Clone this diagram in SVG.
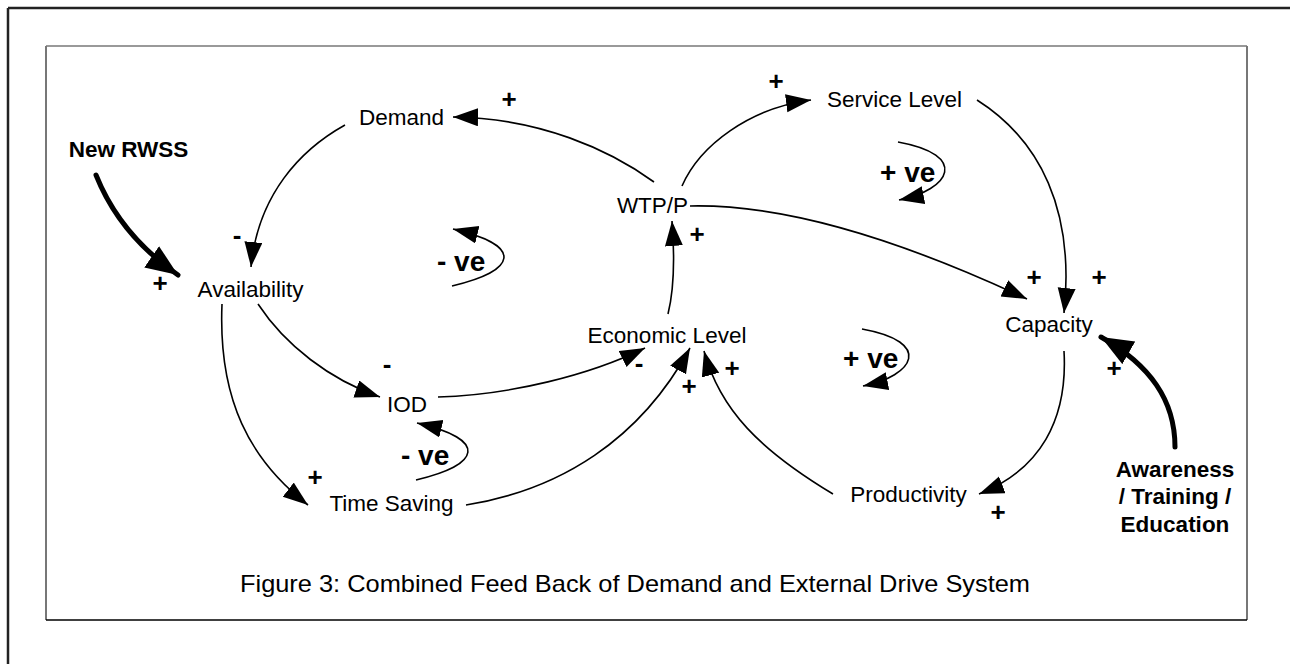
<svg xmlns="http://www.w3.org/2000/svg" width="1290" height="664" viewBox="0 0 1290 664">
<style>
.lbl{font-family:"Liberation Sans",Arial,sans-serif;font-size:22.5px;fill:#000;text-anchor:middle}
.bold{font-family:"Liberation Sans",Arial,sans-serif;font-size:22.5px;font-weight:bold;fill:#000;text-anchor:middle}
.sign{font-family:"Liberation Sans",Arial,sans-serif;font-size:26px;font-weight:bold;fill:#000;text-anchor:middle}
.loop{font-family:"Liberation Sans",Arial,sans-serif;font-size:28px;font-weight:bold;fill:#000;text-anchor:start}
.cap{font-family:"Liberation Sans",Arial,sans-serif;font-size:24px;fill:#000;text-anchor:middle}
.thin{fill:none;stroke:#000;stroke-width:1.6;marker-end:url(#ah)}
.thick{fill:none;stroke:#000;stroke-width:5;stroke-linecap:round;marker-end:url(#ahb)}
</style>
<defs>
<marker id="ah" markerUnits="userSpaceOnUse" markerWidth="28" markerHeight="20" refX="25" refY="9" orient="auto" viewBox="0 0 28 20">
<path d="M0,0 L25,9 L0,18 z" fill="#000"/>
</marker>
<marker id="ahb" markerUnits="userSpaceOnUse" markerWidth="34" markerHeight="30" refX="32" refY="13" orient="auto" viewBox="0 0 34 30">
<path d="M0,0 L32,13 L0,26 z" fill="#000"/>
</marker>
</defs>
<rect width="1290" height="664" fill="#fff"/>
<g id="frame">
<line x1="8" y1="8" x2="1290" y2="8" stroke="#222" stroke-width="2.5"/>
<line x1="8" y1="8" x2="8" y2="664" stroke="#222" stroke-width="2.5"/>
<line x1="46" y1="46" x2="1247" y2="46" stroke="#777" stroke-width="1.5"/>
<line x1="46" y1="46" x2="46" y2="620" stroke="#777" stroke-width="2"/>
<line x1="1247" y1="46" x2="1247" y2="620" stroke="#777" stroke-width="2"/>
<line x1="46" y1="620" x2="1247" y2="620" stroke="#000" stroke-width="1.5"/>
</g>
<g id="connectors">
<path class="thick" d="M96,175 Q120,235 178,275"/>
<path class="thin" d="M345,125 C300,150 258,195 251,267"/>
<path class="thin" d="M654,182 C610,150 540,118 453,117"/>
<path class="thin" d="M682,186 C700,145 750,108 811,100"/>
<path class="thin" d="M977,100 C1040,140 1075,210 1064,313"/>
<path class="thin" d="M690,206 C780,204 890,235 1027,299"/>
<path class="thin" d="M1064,351 C1068,420 1040,470 979,494"/>
<path class="thin" d="M833,494 C760,450 720,410 704,351"/>
<path class="thin" d="M466,505 C560,490 640,440 690,348"/>
<path class="thin" d="M438,397 C510,395 590,375 645,348"/>
<path class="thin" d="M258,304 C285,345 330,380 380,397"/>
<path class="thin" d="M222,304 C218,400 250,460 308,505"/>
<path class="thin" d="M668,314 C674,290 675,260 672,221"/>
<path class="thick" d="M1175,447 C1175,400 1150,365 1101,337"/>
<path class="thin" d="M898,142 C970,155 950,190 899,200"/>
<path class="thin" d="M862,329 C934,342 914,376 863,386"/>
<path class="thin" d="M452,286 C516,271 526,246 453,229"/>
<path class="thin" d="M416,480 C480,465 490,440 417,423"/>
</g>
<g id="demand"><text class="lbl" x="401.5" y="125">Demand</text></g>
<g id="availability"><text class="lbl" x="250.5" y="297">Availability</text></g>
<g id="wtpp"><text class="lbl" x="652.5" y="213">WTP/P</text></g>
<g id="service-level"><text class="lbl" x="894.5" y="107">Service Level</text></g>
<g id="capacity"><text class="lbl" x="1049" y="332">Capacity</text></g>
<g id="economic-level"><text class="lbl" x="667" y="343">Economic Level</text></g>
<g id="iod"><text class="lbl" x="407" y="412">IOD</text></g>
<g id="time-saving"><text class="lbl" x="391.5" y="511">Time Saving</text></g>
<g id="productivity"><text class="lbl" x="908.5" y="502">Productivity</text></g>
<g id="new-rwss"><text class="bold" x="128.5" y="157">New RWSS</text></g>
<g id="awareness">
<text class="bold" x="1175" y="477">Awareness</text>
<text class="bold" x="1175" y="504">/ Training /</text>
<text class="bold" x="1175" y="532">Education</text>
</g>
<g id="loops">
<text class="loop" x="880" y="182">+ ve</text>
<text class="loop" x="843" y="368">+ ve</text>
<text class="loop" x="437" y="271">- ve</text>
<text class="loop" x="401" y="465">- ve</text>
</g>
<g id="signs">
<text class="sign" x="509" y="108">+</text>
<text class="sign" x="776" y="90">+</text>
<text class="sign" x="1034" y="286">+</text>
<text class="sign" x="1099" y="286">+</text>
<text class="sign" x="160" y="292">+</text>
<text class="sign" x="315" y="486">+</text>
<text class="sign" x="689" y="395">+</text>
<text class="sign" x="732" y="377">+</text>
<text class="sign" x="998" y="521">+</text>
<text class="sign" x="1114" y="377">+</text>
<text class="sign" x="697" y="243">+</text>
<text class="sign" x="237" y="244">-</text>
<text class="sign" x="387" y="373">-</text>
<text class="sign" x="639" y="372">-</text>
</g>
<g id="caption"><text class="cap" x="635" y="592" textLength="790" lengthAdjust="spacingAndGlyphs">Figure 3: Combined Feed Back of Demand and External Drive System</text></g>
</svg>
